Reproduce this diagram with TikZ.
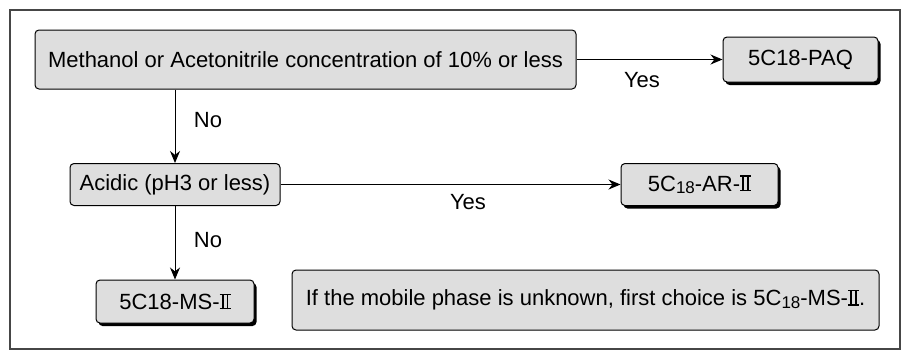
\documentclass[tikz,border=0pt]{standalone}
\usepackage{fontspec}
\setmainfont{Liberation Sans}
\usetikzlibrary{arrows.meta,shadows}
\newcommand{\RomTwo}{\mbox{\rule[0pt]{0.5em}{0.065em}\kern-0.5em\rule[0.651em]{0.5em}{0.065em}\kern-0.5em\kern0.1em\rule{0.085em}{0.716em}\kern0.13em\rule{0.085em}{0.716em}\kern0.1em}}
\newcommand{\Csub}{C\raisebox{-0.2ex}{\fontsize{17}{19}\selectfont 18}}
\definecolor{boxgray}{RGB}{222,222,222}
\definecolor{framegray}{RGB}{70,70,70}
\begin{document}
\begin{tikzpicture}[x=1pt,y=-1pt,
  every node/.style={font=\fontsize{22}{26}\selectfont},
  box/.style={draw, line width=1pt, fill=boxgray, rounded corners=4pt, inner sep=0pt, align=center},
  resbox/.style={box, drop shadow={shadow xshift=2.5pt, shadow yshift=-3pt, fill=black, opacity=1}},
  arr/.style={-{Stealth[length=12pt,width=10pt]}, line width=1pt},
  lbl/.style={font=\fontsize{22}{26}\selectfont}]
\useasboundingbox (0,0) rectangle (902,351);
\draw[line width=1.5pt, framegray] (10,10) rectangle (900,349);
\node[box, minimum width=541pt, minimum height=59pt] (meth) at (305.5,59.5)
  {Methanol or Acetonitrile concentration of 10\% or less};
\node[resbox, minimum width=155pt, minimum height=45pt] (paq) at (800.5,59.5) {5C18-PAQ};
\node[box, minimum width=210pt, minimum height=42pt] (acid) at (175,184.5) {Acidic (pH3 or less)};
\node[resbox, minimum width=157pt, minimum height=42pt] (ar) at (699.5,184.5) {5\Csub-AR-\RomTwo};
\node[resbox, minimum width=158pt, minimum height=43pt] (ms) at (175,301.5) {5C18-MS-\RomTwo};
\node[box, minimum width=587pt, minimum height=60pt] (note) at (585.5,300)
  {If the mobile phase is unknown, first choice is 5\Csub-MS-\RomTwo.};
\draw[arr] (meth.east) -- (paq.west);
\node[lbl] (yes1) at (642,80) {Yes};
\draw[arr] (acid.north |- meth.south) -- (acid.north);
\node[lbl] (no1) at (208,120) {No};
\draw[arr] (acid.east) -- (ar.west);
\node[lbl] (yes2) at (468,202) {Yes};
\draw[arr] (acid.south) -- (ms.north);
\node[lbl] (no2) at (208,240) {No};
\end{tikzpicture}
\end{document}
